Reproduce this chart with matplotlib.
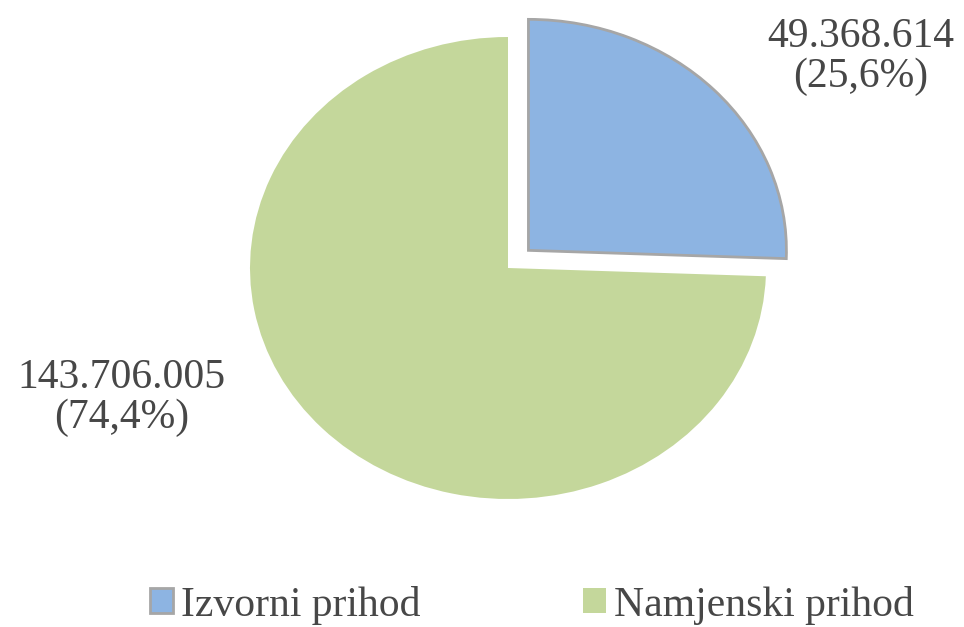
import matplotlib
matplotlib.use("Agg")
import matplotlib.pyplot as plt
from matplotlib.patches import Patch

# data
categories = ["Izvorni prihod", "Namjenski prihod"]
values = [49368614, 143706005]
value_labels = ["49.368.614\n(25,6%)", "143.706.005\n(74,4%)"]
colors = ["#8DB4E2", "#C4D79B"]

plt.rcParams["font.family"] = ["Liberation Serif", "DejaVu Serif"]
text_color = "#474747"

fig = plt.figure(figsize=(9.64, 6.27), dpi=100)
ax = fig.add_axes([0, 0, 1, 1])

wedges, _ = ax.pie(values, colors=colors, startangle=90, counterclock=False,
                   explode=[0.11, 0], radius=1, center=(0, 0))
wedges[0].set_edgecolor("#A6A6A6")
wedges[0].set_linewidth(2)
wedges[1].set_edgecolor("none")

# reference pie is slightly stretched horizontally
ax.set_aspect("auto")
ax.set_xlim(-508 / 258, (964 - 508) / 258)
ax.set_ylim(-(627 - 268) / 231, 268 / 231)
ax.axis("off")

fig.text(0.893, 0.909, value_labels[0], ha="center", va="center",
         fontsize=30, color=text_color, linespacing=1.05)
fig.text(0.126, 0.365, value_labels[1], ha="center", va="center",
         fontsize=30, color=text_color, linespacing=1.05)

handles = [Patch(facecolor=colors[0], edgecolor="#A6A6A6", linewidth=2),
           Patch(facecolor=colors[1], edgecolor="none")]
leg = fig.legend(handles, categories, loc="center", bbox_to_anchor=(0.552, 0.035),
                 ncol=2, frameon=False, fontsize=30, handlelength=0.55,
                 handleheight=0.55, handletextpad=0.2, columnspacing=3.9)
for t in leg.get_texts():
    t.set_color(text_color)

fig.savefig("out.png", dpi=100, facecolor="white")
